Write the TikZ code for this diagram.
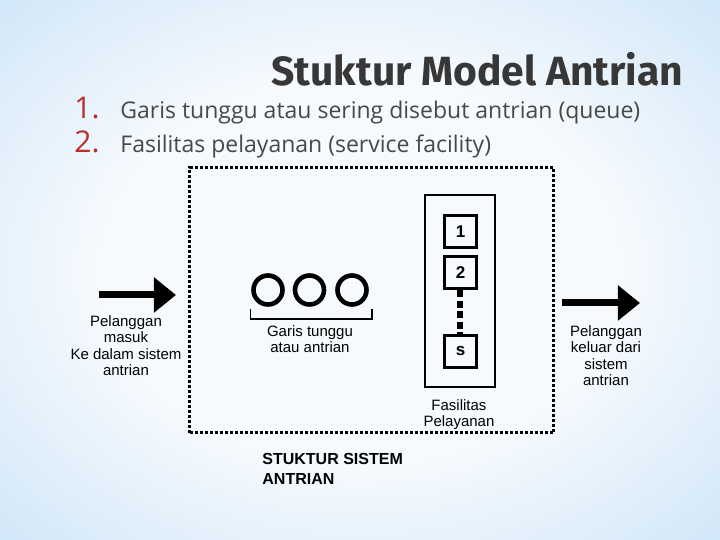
\documentclass[tikz,border=0pt]{standalone}
\usepackage{fontspec}
\setmainfont{Liberation Sans}
\newfontfamily\titlefont{Fira Sans}
\newfontfamily\listfont{Open Sans}
\usetikzlibrary{arrows.meta,positioning,shapes.geometric}
\definecolor{C_sky}{RGB}{162,206,243}
\definecolor{C_paper}{RGB}{246,250,253}
\definecolor{C_ink}{RGB}{55,55,55}
\definecolor{C_gray}{RGB}{72,72,72}
\definecolor{C_rust}{RGB}{185,45,42}
\pgfdeclareradialshading{bgglow}{\pgfpoint{0bp}{0bp}}{color(0bp)=(C_paper); color(18bp)=(C_paper); color(40bp)=(C_sky!55!C_paper); color(58bp)=(C_sky)}

\begin{document}
\begin{tikzpicture}[x=0.5pt, y=-0.5pt]
  \tikzset{
    titletext/.style={font=\titlefont\bfseries\fontsize{20.4pt}{24pt}\selectfont, text=C_ink, inner sep=0pt},
    numtext/.style={font=\listfont\fontsize{15pt}{18pt}\selectfont, text=C_rust, inner sep=0pt},
    itemtext/.style={font=\listfont\fontsize{11.5pt}{14pt}\selectfont, text=C_gray, inner sep=0pt},
    desc/.style={font=\fontsize{7.5pt}{8.25pt}\selectfont, align=center, inner sep=0pt},
    system/.style={draw, line width=1.5pt, dash pattern=on 1.5pt off 1pt},
    facility/.style={draw, line width=0.6pt, minimum width=35pt, minimum height=96pt},
    server/.style={rectangle, draw, line width=1.5pt, minimum size=16pt, inner sep=0pt, font=\bfseries\fontsize{8.5pt}{9pt}\selectfont},
    customer/.style={circle, draw, line width=2.3pt, minimum size=14.5pt, inner sep=0pt},
    flow/.style={-{Triangle[length=11pt,width=17pt]}, line width=3.5pt},
    gap/.style={line width=3pt, dash pattern=on 3.5pt off 1.75pt}
  }
  \useasboundingbox (0,0) rectangle (720,540);
  \shade[shading=bgglow] (0,0) rectangle (720,540);

  % judul dan daftar
  \node[titletext, anchor=base west] (title) at (271,86) {Stuktur Model Antrian};
  \node[numtext, anchor=base west] (num1) at (74,119) {1.};
  \node[itemtext, anchor=base west] (item1) at (120,119) {Garis tunggu atau sering disebut antrian (queue)};
  \node[numtext, anchor=base west] (num2) at (74,153) {2.};
  \node[itemtext, anchor=base west] (item2) at (120,153) {Fasilitas pelayanan (service facility)};

  % sistem antrian
  \node[system, minimum width=182pt, minimum height=132.5pt] (sys) at (372,300.5) {};
  \node[facility] (fac) at (460,291) {};
  \node[server] (srv1) at (460.5,231.5) {1};
  \node[server] (srv2) at (460.5,273) {2};
  \node[server] (srvs) at (460.5,351.5) {s};
  \draw[gap] (srv2) -- (srvs);
  \node[desc, anchor=north] (faclab) at (459,399) {Fasilitas\\Pelayanan};

  \foreach \i/\x in {1/268,2/309.5,3/352}
    \node[customer] (cust\i) at (\x,290) {};
  \coordinate (brA) at (250.5,309);
  \coordinate (brB) at (372,309);
  \draw[line width=0.6pt] (brA) -- ++(0,10) -| (brB);
  \node[desc, anchor=north] (queuelab) at (310,325) {Garis tunggu\\atau antrian};

  % masuk dan keluar
  \coordinate (inA) at (99,295);
  \coordinate (inB) at (176,295);
  \draw[flow] (inA) -- (inB);
  \node[desc, anchor=north] (inlab) at (126,315) {Pelanggan\\masuk\\Ke dalam sistem\\antrian};
  \coordinate (outA) at (562,303);
  \coordinate (outB) at (640,303);
  \draw[flow] (outA) -- (outB);
  \node[desc, anchor=north] (outlab) at (606,325) {Pelanggan\\keluar dari\\sistem\\antrian};

  \node[font=\bfseries\fontsize{8pt}{10pt}\selectfont, align=left, inner sep=0pt, anchor=north west] (caption) at (262,453) {STUKTUR SISTEM\\ANTRIAN};
\end{tikzpicture}
\end{document}
